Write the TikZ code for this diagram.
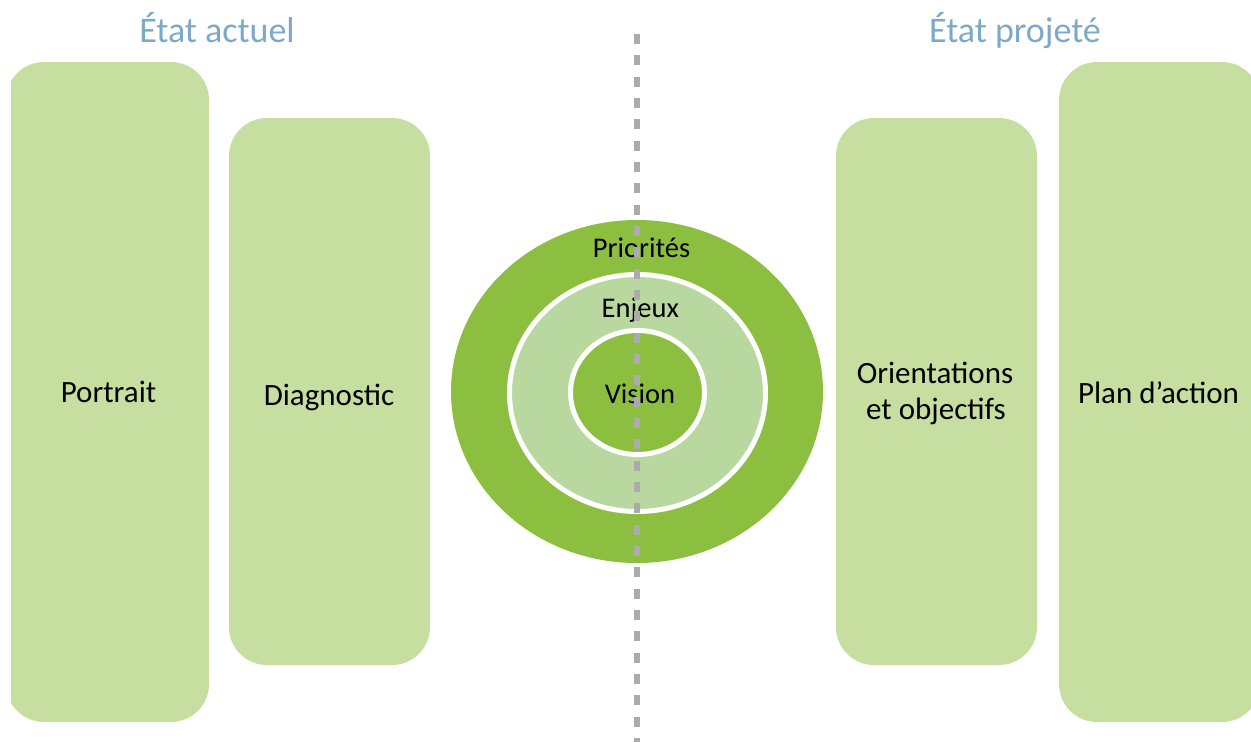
\documentclass[tikz,border=0pt]{standalone}
\usepackage{fontspec}
\setmainfont{Carlito}
\usetikzlibrary{shapes.geometric}
\definecolor{boxgreen}{HTML}{C6DFA1}
\definecolor{darkgreen}{HTML}{8CBF40}
\definecolor{lightgreen}{HTML}{B9D8A0}
\definecolor{titleblue}{HTML}{7DA9C9}
\definecolor{dashgray}{HTML}{ABABAB}
\tikzset{
  boxshape/.style={fill=boxgreen, draw=none, rounded corners=38pt, inner sep=0pt, outer sep=0pt},
  boxtext/.style={anchor=base, inner sep=0pt, font=\fontsize{31}{36}\selectfont, text=black},
  ringtext/.style={anchor=base, inner sep=0pt, font=\fontsize{28.5}{34}\selectfont, text=black},
  titletext/.style={anchor=base, inner sep=0pt, font=\fontsize{36}{42}\selectfont, text=titleblue},
  ring/.style={ellipse, inner sep=0pt, outer sep=0pt},
  divider/.style={draw=dashgray, line width=5.5pt, dash pattern=on 10pt off 11.33pt}
}
\begin{document}
\begin{tikzpicture}[x=1pt,y=-1pt]
\useasboundingbox (0,0) rectangle (1251,742);
\begin{scope}
  \clip (11,0) rectangle (1251,742);
  \node[boxshape, minimum width=203pt, minimum height=660pt] (portrait) at (107.5,392) {};
  \node[boxshape, minimum width=201pt, minimum height=547pt] (diagnostic) at (329.5,391.5) {};
  \node[boxshape, minimum width=201pt, minimum height=547pt] (orientations) at (936.5,391.5) {};
  \node[boxshape, minimum width=201pt, minimum height=660pt] (plan) at (1159.5,392) {};
\end{scope}
\node[ring, fill=darkgreen, minimum width=372pt, minimum height=343pt] (outer) at (637,391.5) {};
\node[ring, fill=lightgreen, draw=white, line width=5pt, minimum width=256pt, minimum height=237pt] (middle) at (637.5,393) {};
\node[ring, fill=darkgreen, draw=white, line width=5pt, minimum width=134pt, minimum height=124pt] (inner) at (637.5,392.5) {};
\node[titletext] (actuel) at (217,42) {État actuel};
\node[titletext] (projete) at (1015,42) {État projeté};
\node[boxtext] (tportrait) at (108.5,402) {Portrait};
\node[boxtext] (tdiag) at (329,405) {Diagnostic};
\node[boxtext] (torient1) at (935,383.5) {Orientations};
\node[boxtext] (torient2) at (936,419.5) {et objectifs};
\node[boxtext] (tplan) at (1158.5,403) {Plan d’action};
\node[ringtext] (tprio) at (641.5,257) {Priorités};
\node[ringtext] (tenjeux) at (640.3,317) {Enjeux};
\node[ringtext] (tvision) at (640,403) {Vision};
\coordinate (dtop) at (637,34);
\coordinate (dbot) at (637,742);
\draw[divider] (dtop) -- (dbot);
\end{tikzpicture}
\end{document}
